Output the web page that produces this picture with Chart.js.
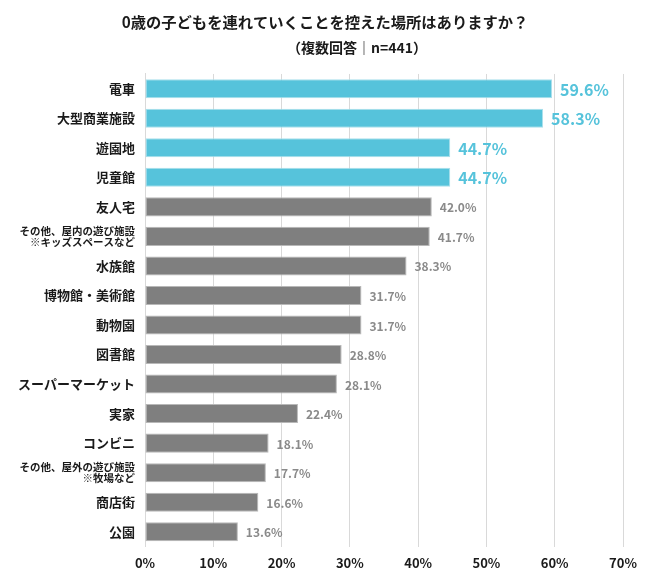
<!DOCTYPE html>
<html>
<head>
<meta charset="utf-8">
<script src="https://cdn.jsdelivr.net/npm/chart.js@4"></script>
<style>
html,body{margin:0;padding:0;background:#fff;}
#wrap{width:650px;height:580px;}
</style>
</head>
<body>
<div id="wrap"><canvas id="c" width="650" height="580"></canvas></div>
<script>
const titleText = "0歳の子どもを連れていくことを控えた場所はありますか？";
const subtitleText = "（複数回答｜n=441）";
const categories = [
  "電車",
  "大型商業施設",
  "遊園地",
  "児童館",
  "友人宅",
  ["その他、屋内の遊び施設", "※キッズスペースなど"],
  "水族館",
  "博物館・美術館",
  "動物園",
  "図書館",
  "スーパーマーケット",
  "実家",
  "コンビニ",
  ["その他、屋外の遊び施設", "※牧場など"],
  "商店街",
  "公園"
];
const values = [59.6, 58.3, 44.7, 44.7, 42.0, 41.7, 38.3, 31.7, 31.7, 28.8, 28.1, 22.4, 18.1, 17.7, 16.6, 13.6];
const highlightCount = 4;
const xTicks = [0, 10, 20, 30, 40, 50, 60, 70];

const FONT = "'Noto Sans CJK JP', 'Noto Sans', sans-serif";
const BLUE = "#56c3db";
const BLUE_BORDER = "#a9dfec";
const GRAY = "#7f7f7f";
const GRAY_BORDER = "#b8b8b8";

const valueLabels = {
  id: "valueLabels",
  afterDatasetsDraw(chart) {
    const ctx = chart.ctx;
    const meta = chart.getDatasetMeta(0);
    ctx.save();
    ctx.textBaseline = "middle";
    ctx.textAlign = "left";
    meta.data.forEach((bar, i) => {
      const hi = i < highlightCount;
      ctx.font = (hi ? "bold 16px " : "bold 12px ") + FONT;
      ctx.fillStyle = hi ? BLUE : "#8a8a8a";
      ctx.fillText(values[i].toFixed(1) + "%", bar.x + 8, bar.y + 1);
    });
    ctx.restore();
  }
};

const subtitleDraw = {
  id: "subtitleDraw",
  afterDraw(chart) {
    const ctx = chart.ctx;
    ctx.save();
    ctx.font = "bold 14px " + FONT;
    ctx.fillStyle = "#1a1a1a";
    ctx.textAlign = "center";
    ctx.textBaseline = "middle";
    ctx.fillText(subtitleText, 357, 48);
    ctx.restore();
  }
};

new Chart(document.getElementById("c"), {
  type: "bar",
  data: {
    labels: categories,
    datasets: [{
      data: values,
      backgroundColor: values.map((v, i) => i < highlightCount ? BLUE : GRAY),
      borderColor: values.map((v, i) => i < highlightCount ? BLUE_BORDER : GRAY_BORDER),
      borderWidth: 1,
      borderSkipped: false,
      barPercentage: 0.645,
      categoryPercentage: 1.0
    }]
  },
  options: {
    indexAxis: "y",
    responsive: false,
    animation: false,
    devicePixelRatio: 1,
    layout: { padding: 0 },
    plugins: {
      legend: { display: false },
      tooltip: { enabled: false },
      title: {
        display: true,
        text: titleText,
        color: "#1a1a1a",
        font: { family: FONT, size: 15.3, weight: "bold", lineHeight: 1.2 },
        padding: { top: 12.8, bottom: 42.8 }
      },
      subtitle: { display: false }
    },
    scales: {
      x: {
        min: 0,
        max: 70,
        afterBuildTicks(scale) { scale.ticks = xTicks.map(v => ({ value: v })); },
        afterFit(scale) { scale.height = 33.5; },
        grid: { color: "#d9d9d9", lineWidth: 1, drawTicks: false },
        border: { display: false },
        ticks: {
          padding: 8.7,
          color: "#1a1a1a",
          font: { family: FONT, size: 13, weight: "bold", lineHeight: 1.2 },
          callback: (v) => v + "%"
        }
      },
      y: {
        afterFit(scale) { scale.width = 145; },
        grid: { display: false, drawTicks: false },
        border: { display: true, color: "#d9d9d9", width: 1 },
        ticks: {
          padding: 10,
          color: "#1a1a1a",
          autoSkip: false,
          font: (ctx) => {
            const lab = categories[ctx.index];
            return Array.isArray(lab)
              ? { family: FONT, size: 10.5, weight: "bold", lineHeight: 1.05 }
              : { family: FONT, size: 13, weight: "bold" };
          }
        }
      },
      yRight: {
        position: "right",
        afterFit(scale) { scale.width = 27; },
        grid: { display: false, drawTicks: false },
        border: { display: false },
        ticks: { display: false }
      }
    }
  },
  plugins: [valueLabels, subtitleDraw]
});
</script>
</body>
</html>
